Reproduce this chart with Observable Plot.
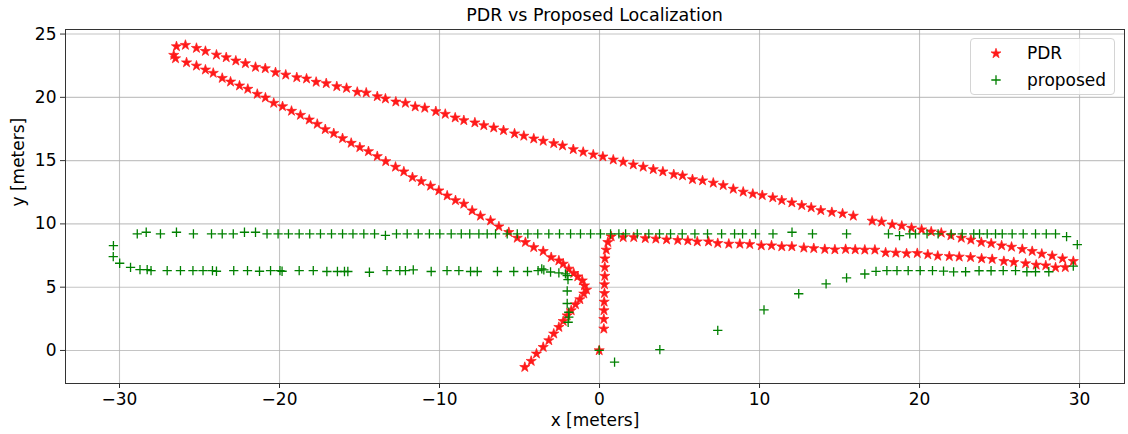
<!DOCTYPE html>
<html><head><meta charset="utf-8">
<script src="https://cdn.jsdelivr.net/npm/d3@7"></script>
<script src="https://cdn.jsdelivr.net/npm/@observablehq/plot@0.6"></script>
<style>
body{margin:0;background:#fff;font-family:"DejaVu Sans",sans-serif;}
#wrap{position:relative;width:1128px;height:434px;overflow:hidden;}
#title{position:absolute;left:594.5px;top:0;height:29px;line-height:30px;transform:translateX(-50%);font-size:17.5px;color:#000;white-space:nowrap;}
#chart{position:absolute;left:0;top:28px;}
#legend{position:absolute;left:970px;top:38px;width:145px;height:57px;border:1px solid #d4d4d4;border-radius:4px;background:rgba(255,255,255,0.8);box-sizing:border-box;}
#legend svg{position:absolute;left:0;top:0;}
</style>
</head><body>
<div id="wrap">
<div id="title">PDR vs Proposed Localization</div>
<div id="chart"></div>
<div id="legend"></div>
</div>
<script>
// PDR trajectory (red stars)
const pdrX = [-0.02,
 0.27,0.27,0.28,0.29,0.31,0.31,0.33,0.33,0.34,0.42,0.52,0.73,
 1.48,2.14,2.86,3.52,4.19,4.89,5.52,6.11,6.81,7.39,8.08,8.77,9.39,10.11,10.75,11.39,12.02,12.77,13.39,14.08,14.71,15.38,15.98,16.58,17.21,17.88,18.52,19.19,19.86,20.52,21.14,21.86,22.48,23.19,23.88,24.54,25.27,25.89,26.63,27.29,27.89,28.5,29.11,
 29.61,
 28.94,28.29,27.64,27.04,26.42,25.75,25.13,24.48,23.86,23.21,22.61,21.96,21.36,20.73,20.13,19.5,18.89,18.29,17.63,17.04,15.86,15.19,14.52,13.83,13.23,12.64,12.02,11.39,10.83,10.17,9.58,8.98,8.36,7.73,7.11,6.44,5.81,5.19,4.64,3.96,3.36,2.73,2.11,1.48,0.86,0.21,-0.39,-1.02,-1.64,-2.31,-2.86,-3.52,-4.11,-4.73,-5.31,-6.0,-6.61,-7.23,-7.79,-8.48,-9.02,-9.64,-10.23,-10.92,-11.52,-12.13,-12.73,-13.38,-13.89,-14.58,-15.14,-15.81,-16.42,-17.08,-17.71,-18.31,-18.92,-19.61,-20.25,-20.89,-21.5,-22.13,-22.73,-23.33,-23.94,-24.63,-25.19,-25.88,-26.44,
 -26.61,-26.5,-25.81,-25.19,-24.63,-24.14,-23.58,-23.06,-22.5,-21.98,-21.39,-20.88,-20.36,-19.81,-19.25,-18.69,-18.14,-17.64,-17.14,-16.61,-16.06,-15.52,-14.98,-14.44,-13.89,-13.36,-12.75,-12.23,-11.69,-11.14,-10.56,-10.04,-9.52,-9.0,-8.48,-7.96,-7.44,-6.81,-6.29,-5.67,-5.14,-4.63,-4.11,-3.52,-3.02,-2.54,-2.27,-1.92,-1.61,-1.36,-1.08,-0.94,-0.81,-0.98,-1.23,-1.5,-1.77,-2.02,-2.27,-2.54,-2.86,-3.17,-3.52,-3.94,-4.27,-4.67];
const pdrY = [0,
 1.71,2.47,3.16,3.84,4.52,5.21,5.88,6.57,7.26,7.95,8.55,9.0,
 8.94,8.94,8.86,8.82,8.76,8.71,8.68,8.60,8.60,8.47,8.42,8.42,8.39,8.29,8.29,8.21,8.21,8.11,8.07,8.0,7.97,8.0,7.97,7.95,7.95,7.73,7.71,7.66,7.68,7.58,7.47,7.44,7.40,7.36,7.26,7.21,7.05,6.97,6.87,6.76,6.71,6.55,6.57,
 7.05,
 7.26,7.47,7.63,7.84,8.0,8.18,8.29,8.45,8.55,8.74,8.89,9.08,9.29,9.39,9.55,9.68,9.84,9.94,10.16,10.24,10.63,10.81,10.92,11.07,11.29,11.47,11.68,11.86,12.08,12.26,12.37,12.53,12.76,13.05,13.24,13.42,13.52,13.81,13.91,14.13,14.31,14.50,14.68,14.89,15.07,15.31,15.47,15.68,15.89,16.18,16.36,16.55,16.73,16.95,17.13,17.39,17.60,17.78,18.0,18.18,18.39,18.68,18.89,19.16,19.26,19.55,19.65,19.89,20.07,20.36,20.42,20.73,20.86,21.10,21.21,21.47,21.57,21.78,21.97,22.28,22.39,22.68,22.89,23.15,23.36,23.65,23.89,24.13,24.02,
 23.34,23.07,22.75,22.49,22.18,21.92,21.52,21.23,20.92,20.66,20.26,19.97,19.55,19.28,18.92,18.6,18.23,17.89,17.47,17.15,16.76,16.39,16.05,15.73,15.34,14.94,14.5,14.13,13.68,13.36,13.0,12.63,12.23,11.86,11.58,11.05,10.63,10.26,9.79,9.34,8.89,8.55,8.15,7.84,7.36,7.10,6.84,6.45,6.10,5.84,5.52,5.13,4.79,4.48,4.03,3.63,3.16,2.76,2.31,1.84,1.32,0.79,0.26,-0.26,-0.84,-1.32];

// Proposed localization (green plus)
const propX = [-0.02,0.94,3.77,7.39,10.28,12.45,14.16,15.44,16.58,17.28,17.96,18.59,19.29,20.04,20.81,21.5,22.13,22.88,23.72,24.47,25.23,26.0,26.71,27.25,28.08,29.61,29.86,
 29.19,28.5,27.92,27.25,26.48,25.79,25.17,24.75,24.23,23.75,23.39,22.67,21.98,21.16,20.47,19.75,19.39,18.75,18.06,15.44,13.31,12.03,10.84,9.75,8.94,8.44,7.63,6.75,5.96,5.17,4.44,3.75,3.08,2.36,1.63,1.21,0.69,0.06,-0.56,-1.19,-1.81,-2.5,-3.17,-3.86,-4.48,-5.14,-5.77,-6.5,-7.02,-7.54,-8.11,-8.64,-9.27,-9.98,-10.63,-11.33,-12.02,-12.69,-13.38,-14.06,-14.73,-15.41,-16.06,-16.75,-17.44,-18.11,-18.77,-19.44,-20.09,-20.78,-21.5,-22.19,-22.89,-23.58,-24.25,-25.38,-26.44,-27.44,-28.33,-28.89,
 -30.38,-30.39,-29.99,-29.31,-28.72,-28.27,-28.03,
 -27.02,-26.19,-25.41,-24.78,-24.19,-23.94,-22.86,-22.0,-21.25,-20.56,-19.97,-19.84,-18.77,-17.89,-17.04,-16.38,-15.94,-15.73,-14.38,-13.28,-12.48,-12.13,-11.64,-10.52,-9.53,-8.79,-8.06,-7.64,-6.38,-5.36,-4.5,-3.84,-3.61,-3.48,-3.06,-2.54,-2.13,
 -2.02,-1.97,-2.02,-2.02,-1.92,-1.92,-1.96];
const propY = [0,-0.92,0.06,1.58,3.21,4.48,5.26,5.74,6.04,6.25,6.31,6.31,6.31,6.31,6.31,6.27,6.21,6.22,6.30,6.30,6.31,6.31,6.22,6.22,6.22,6.67,8.37,
 9.0,9.21,9.21,9.21,9.21,9.21,9.21,9.21,9.21,9.21,9.21,9.21,9.21,9.21,9.21,9.21,9.21,9.08,9.21,9.21,9.21,9.34,9.21,9.21,9.21,9.21,9.21,9.21,9.21,9.21,9.21,9.21,9.21,9.21,9.21,9.21,9.21,9.21,9.21,9.21,9.21,9.21,9.21,9.21,9.21,9.21,9.21,9.21,9.21,9.21,9.21,9.21,9.21,9.21,9.21,9.21,9.21,9.21,9.10,9.21,9.21,9.21,9.21,9.21,9.21,9.21,9.21,9.21,9.21,9.21,9.34,9.34,9.21,9.21,9.21,9.21,9.34,9.21,9.34,9.21,
 8.29,7.42,6.89,6.57,6.39,6.39,6.31,
 6.31,6.31,6.31,6.31,6.31,6.26,6.31,6.31,6.26,6.31,6.31,6.26,6.31,6.31,6.24,6.24,6.24,6.24,6.18,6.31,6.31,6.31,6.37,6.24,6.31,6.31,6.24,6.24,6.24,6.24,6.24,6.31,6.44,6.37,6.20,6.13,6.05,
 5.92,5.60,4.70,3.71,3.02,2.63,2.23];

const xTicks = [-30, -20, -10, 0, 10, 20, 30];
const yTicks = [0, 5, 10, 15, 20, 25];
const seriesNames = ["PDR", "proposed"];
const titleText = "PDR vs Proposed Localization";
const xLabel = "x [meters]";
const yLabel = "y [meters]";

const pdr = pdrX.map((x, i) => ({x, y: pdrY[i]}));
const prop = propX.map((x, i) => ({x, y: propY[i]}));
const fmt = d => d < 0 ? "\u2212" + Math.abs(d) : String(d);
const gridStyle = {stroke: "#b0b0b0", strokeOpacity: 0.75, strokeWidth: 1.1};

const chart = Plot.plot({
  width: 1128, height: 406,
  marginTop: 1, marginBottom: 51, marginLeft: 65, marginRight: 4,
  style: {fontFamily: "'DejaVu Sans', sans-serif", fontSize: "17px", color: "#000", background: "#fff", overflow: "visible"},
  x: {domain: [-33.375, 32.81]},
  y: {domain: [-2.61, 25.36]},
  marks: [
    Plot.gridX(xTicks, gridStyle),
    Plot.gridY(yTicks, gridStyle),
    Plot.axisX(xTicks, {tickSize: 5, tickPadding: 4, tickFormat: fmt, label: null, fontSize: 17, stroke: "#333"}),
    Plot.axisY(yTicks, {tickSize: 5, tickPadding: 4, tickFormat: fmt, label: null, fontSize: 17, stroke: "#333"}),
    Plot.dot(pdr, {x: "x", y: "y", symbol: "star", fill: "#ff1a1a", stroke: "#ff1a1a", strokeWidth: 0.7, r: 3.2}),
    Plot.dot(prop, {x: "x", y: "y", symbol: "plus", stroke: "green", r: 3.1, strokeWidth: 1.3}),
    Plot.frame({stroke: "#333", strokeWidth: 1}),
    Plot.text([xLabel], {text: d => d, frameAnchor: "bottom", dy: 37, lineAnchor: "middle", fontSize: 17}),
    Plot.text([yLabel], {text: d => d, frameAnchor: "left", dx: -47, rotate: -90, lineAnchor: "middle", fontSize: 17})
  ]
});
document.getElementById("chart").append(chart);
document.getElementById("title").textContent = titleText;

// legend
const lg = d3.select("#legend").append("svg").attr("width", 145).attr("height", 57);
const syms = [
  {name: seriesNames[0], sym: d3.symbolStar, fill: "#ff1a1a", stroke: "#ff1a1a", y: 14.5},
  {name: seriesNames[1], sym: d3.symbolPlus, fill: "none", stroke: "green", y: 41}
];
syms.forEach(s => {
  lg.append("path").attr("d", d3.symbol(s.sym, Math.PI * 9.8)())
    .attr("transform", `translate(25,${s.y})`)
    .attr("fill", s.fill).attr("stroke", s.stroke).attr("stroke-width", s.fill === "none" ? 1.3 : 0.7);
  lg.append("text").attr("x", 56).attr("y", s.y).attr("dy", "0.35em")
    .attr("font-family", "'DejaVu Sans', sans-serif").attr("font-size", 17)
    .attr("fill", "#000").text(s.name);
});
</script>
</body></html>
